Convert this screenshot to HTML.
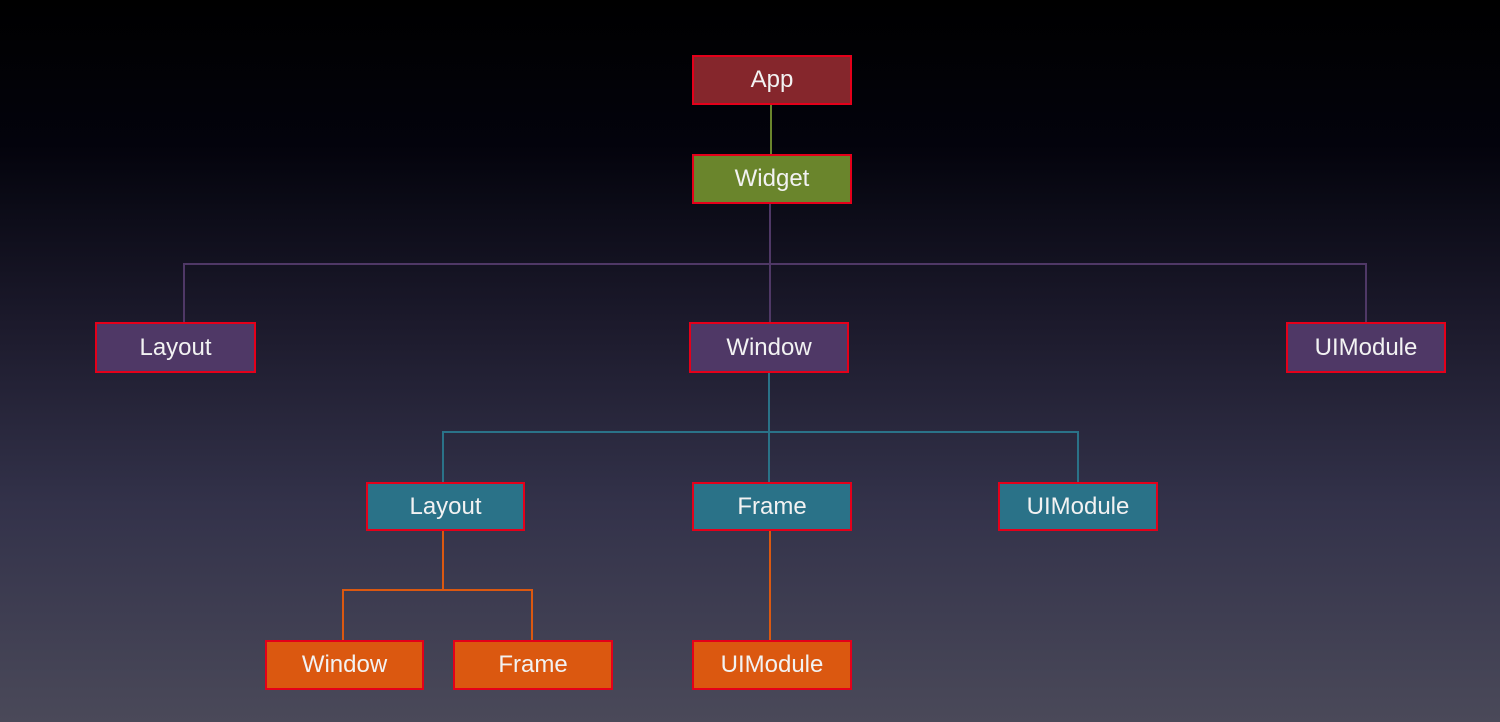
<!DOCTYPE html>
<html><head><style>
html,body{margin:0;padding:0}
body{width:1500px;height:722px;position:relative;overflow:hidden;background:linear-gradient(to bottom,#000 0%,#03030c 20%,#1c1a2c 45%,#33324a 70%,#4a4959 100%);font-family:"Liberation Sans",sans-serif}
.b{position:absolute;box-sizing:border-box;border:2px solid #e4001a;color:#f2f2f2;font-size:24px;display:flex;align-items:center;justify-content:center}
.r{background:#85262c}.g{background:#6a852c}.p{background:#4f3866}.t{background:#2a7288}.o{background:#db5810}
.l{position:absolute}
</style></head><body>
<div class="l" style="left:770px;top:104px;width:2px;height:50px;background:#6a852c"></div>
<div class="l" style="left:769px;top:203px;width:2px;height:119px;background:#4f3866"></div>
<div class="l" style="left:183px;top:263px;width:1184px;height:2px;background:#4f3866"></div>
<div class="l" style="left:183px;top:263px;width:2px;height:59px;background:#4f3866"></div>
<div class="l" style="left:1365px;top:263px;width:2px;height:59px;background:#4f3866"></div>
<div class="l" style="left:768px;top:373px;width:2px;height:109px;background:#2a7288"></div>
<div class="l" style="left:442px;top:431px;width:637px;height:2px;background:#2a7288"></div>
<div class="l" style="left:442px;top:431px;width:2px;height:51px;background:#2a7288"></div>
<div class="l" style="left:1077px;top:431px;width:2px;height:51px;background:#2a7288"></div>
<div class="l" style="left:442px;top:531px;width:2px;height:59px;background:#db5810"></div>
<div class="l" style="left:342px;top:589px;width:191px;height:2px;background:#db5810"></div>
<div class="l" style="left:342px;top:589px;width:2px;height:51px;background:#db5810"></div>
<div class="l" style="left:531px;top:589px;width:2px;height:51px;background:#db5810"></div>
<div class="l" style="left:769px;top:531px;width:2px;height:109px;background:#db5810"></div>

<div class="b r" style="left:692px;top:55px;width:160px;height:50px">App</div>
<div class="b g" style="left:692px;top:154px;width:160px;height:50px">Widget</div>
<div class="b p" style="left:95px;top:322px;width:161px;height:51px">Layout</div>
<div class="b p" style="left:689px;top:322px;width:160px;height:51px">Window</div>
<div class="b p" style="left:1286px;top:322px;width:160px;height:51px">UIModule</div>
<div class="b t" style="left:366px;top:482px;width:159px;height:49px">Layout</div>
<div class="b t" style="left:692px;top:482px;width:160px;height:49px">Frame</div>
<div class="b t" style="left:998px;top:482px;width:160px;height:49px">UIModule</div>
<div class="b o" style="left:265px;top:640px;width:159px;height:50px">Window</div>
<div class="b o" style="left:453px;top:640px;width:160px;height:50px">Frame</div>
<div class="b o" style="left:692px;top:640px;width:160px;height:50px">UIModule</div>
</body></html>
